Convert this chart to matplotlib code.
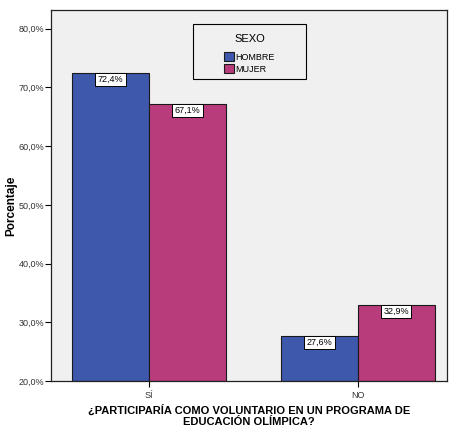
import numpy as np
import matplotlib.pyplot as plt
from matplotlib.patches import Rectangle

plt.rcParams['font.family'] = ['Liberation Sans', 'DejaVu Sans']

categories = ['SÍ', 'NO']
hombre = [72.4, 27.6]
mujer = [67.1, 32.9]
yticks = [20, 30, 40, 50, 60, 70, 80]

blue = '#3E58AC'
pink = '#B83C7B'

fig = plt.figure(figsize=(4.52, 4.32), dpi=100)
ax = fig.add_axes([0.1128, 0.118, 0.876, 0.859])
ax.set_facecolor('#F0F0F0')

x = np.arange(len(categories))
w = 0.368
ax.bar(x - w / 2, np.array(hombre) - 20, w, bottom=20, color=blue,
       edgecolor='#1a1a1a', linewidth=0.8, label='HOMBRE')
ax.bar(x + w / 2, np.array(mujer) - 20, w, bottom=20, color=pink,
       edgecolor='#1a1a1a', linewidth=0.8, label='MUJER')

for xs, vals in [(x - w / 2, hombre), (x + w / 2, mujer)]:
    for xi, v in zip(xs, vals):
        ax.text(xi, v - 0.3, f"{v:.1f}%".replace('.', ','), ha='center', va='top',
                fontsize=6.5,
                bbox=dict(boxstyle='square,pad=0.25', facecolor='white',
                          edgecolor='black', linewidth=0.7))

ax.set_xlim(-0.469, 1.426)
ax.set_ylim(20, 83.2)
ax.set_yticks(yticks)
ax.set_yticklabels([f"{t:.1f}%".replace('.', ',') for t in yticks], fontsize=6.5,
                   color='#333333')
ax.set_xticks(x)
ax.set_xticklabels(categories, fontsize=6.5, color='#333333')
ax.tick_params(length=4, width=0.8)
ax.tick_params(axis='y', pad=1)

for s in ax.spines.values():
    s.set_linewidth(0.9)
    s.set_color('#222222')

fig.text(11 / 452, 1 - 206 / 432, 'Porcentaje', rotation=90, ha='center',
         va='center', fontsize=8.5, fontweight='bold')
ax.set_xlabel('¿PARTICIPARÍA COMO VOLUNTARIO EN UN PROGRAMA DE\nEDUCACIÓN OLÍMPICA?',
              fontsize=8, fontweight='bold', labelpad=3, linespacing=1.1)

# legend frame
ax.add_patch(Rectangle((0.359, 0.814), 0.285, 0.148, transform=ax.transAxes,
                       facecolor='none', edgecolor='black', linewidth=0.8,
                       zorder=5))
leg = ax.legend(title='SEXO', loc='center', bbox_to_anchor=(0.5015, 0.882),
                fontsize=6.5, title_fontsize=8, frameon=False,
                handlelength=1.1, handleheight=1.2, handletextpad=0.2,
                borderpad=0.3, labelspacing=0.25)
leg._legend_box.align = 'center'
leg._legend_box.sep = 6

fig.savefig('out.png', dpi=100, facecolor='white')
